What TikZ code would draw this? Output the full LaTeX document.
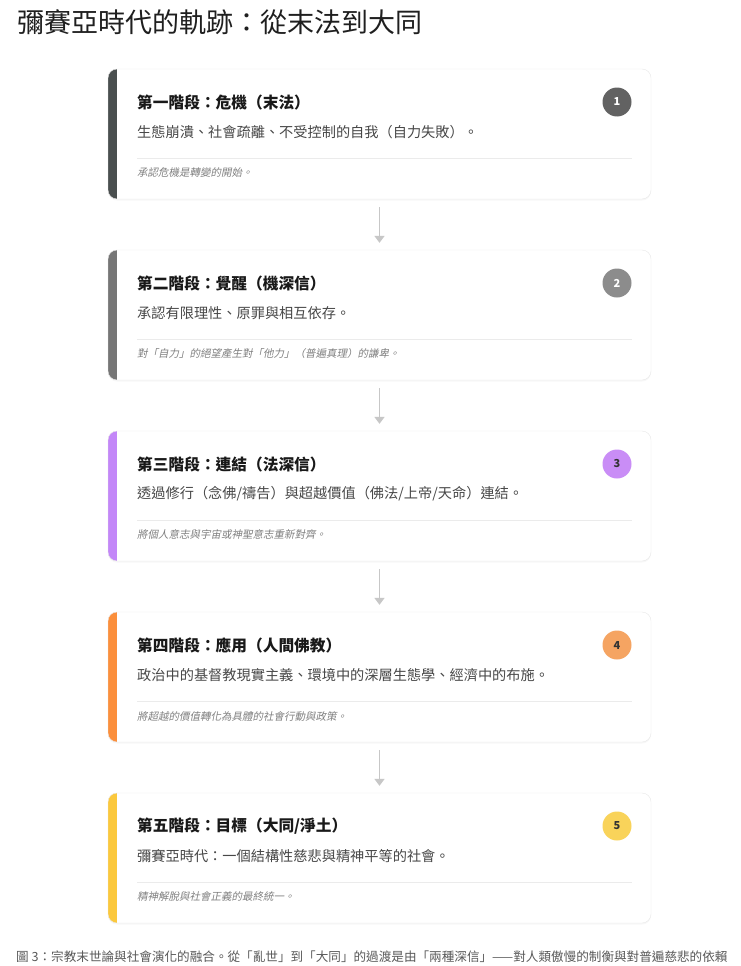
\documentclass[tikz,border=0pt]{standalone}
\usepackage{fontspec}
\setmainfont{Noto Sans CJK TC}
\newfontfamily\slantcjk[FakeSlant=0.2]{Noto Sans CJK TC}
\usetikzlibrary{arrows.meta,shadows}

\definecolor{barA}{HTML}{4A4F4F}
\definecolor{barB}{HTML}{767676}
\definecolor{barC}{HTML}{C387F8}
\definecolor{barD}{HTML}{FB8F3C}
\definecolor{barE}{HTML}{FBC83D}
\definecolor{dotA}{HTML}{626262}
\definecolor{dotB}{HTML}{8C8C8C}
\definecolor{dotC}{HTML}{C98DF6}
\definecolor{dotD}{HTML}{F5A462}
\definecolor{dotE}{HTML}{F9D35A}

\tikzset{
  card/.style={draw=black!9, fill=white, rounded corners=9pt, inner sep=0pt,
    minimum width=543pt, minimum height=130pt,
    drop shadow={opacity=0.06, shadow xshift=0pt, shadow yshift=-1.5pt},
    path picture={\fill[#1, sharp corners] (path picture bounding box.north west)
      rectangle ([xshift=9pt]path picture bounding box.south west);}},
  dot/.style={circle, fill=#1, minimum size=29pt, inner sep=0pt,
    font=\fontsize{11}{11}\selectfont\bfseries}
}
\tikzstyle{stagetitle} = [anchor=west, inner sep=0pt, text=black!90, font=\fontsize{15.7}{18}\selectfont\bfseries]
\tikzstyle{stagebody} = [anchor=west, inner sep=0pt, text=black!72, font=\fontsize{14.2}{16}\selectfont]
\tikzstyle{stagenote} = [anchor=west, inner sep=0pt, text=black!50, font=\fontsize{10.5}{12}\slantcjk]
\tikzstyle{rule} = [draw=black!8, line width=0.8pt]
\tikzstyle{flow} = [draw=black!22, line width=1.6pt, shorten <=8pt, shorten >=7pt, -{Triangle[length=7pt,width=10pt]}]

\begin{document}
\begin{tikzpicture}[x=1pt, y=-1pt]
\useasboundingbox[fill=white] (0,0) rectangle (740,966);

\node[anchor=west, inner sep=0pt, text=black!88, font=\fontsize{27}{30}\selectfont] (head) at (17,22) {彌賽亞時代的軌跡：從末法到大同};

% stage 1
\node[card=barA] (s1) at (379.5,134) {};
\node[stagetitle] (t1) at (137,102) {第一階段：危機（末法）};
\node[dot=dotA, text=white] (n1) at (617,102) {1};
\node[stagebody] (b1) at (137,132) {生態崩潰、社會疏離、不受控制的自我（自力失敗）。};
\draw[rule] (137,158) -- (632,158);
\node[stagenote] (m1) at (137,173) {承認危機是轉變的開始。};

% stage 2
\node[card=barB] (s2) at (379.5,315) {};
\node[stagetitle] (t2) at (137,283) {第二階段：覺醒（機深信）};
\node[dot=dotB, text=white] (n2) at (617,283) {2};
\node[stagebody] (b2) at (137,313) {承認有限理性、原罪與相互依存。};
\draw[rule] (137,339) -- (632,339);
\node[stagenote] (m2) at (137,354) {對「自力」的絕望產生對「他力」（普遍真理）的謙卑。};

% stage 3
\node[card=barC] (s3) at (379.5,496) {};
\node[stagetitle] (t3) at (137,464) {第三階段：連結（法深信）};
\node[dot=dotC, text=black!80] (n3) at (617,464) {3};
\node[stagebody] (b3) at (137,494) {透過修行（念佛/禱告）與超越價值（佛法/上帝/天命）連結。};
\draw[rule] (137,520) -- (632,520);
\node[stagenote] (m3) at (137,535) {將個人意志與宇宙或神聖意志重新對齊。};

% stage 4
\node[card=barD] (s4) at (379.5,677) {};
\node[stagetitle] (t4) at (137,645) {第四階段：應用（人間佛教）};
\node[dot=dotD, text=black!80] (n4) at (617,645) {4};
\node[stagebody] (b4) at (137,675) {政治中的基督教現實主義、環境中的深層生態學、經濟中的布施。};
\draw[rule] (137,701) -- (632,701);
\node[stagenote] (m4) at (137,716) {將超越的價值轉化為具體的社會行動與政策。};

% stage 5
\node[card=barE] (s5) at (379.5,858) {};
\node[stagetitle] (t5) at (137,826) {第五階段：目標（大同/淨土）};
\node[dot=dotE, text=black!80] (n5) at (617,826) {5};
\node[stagebody] (b5) at (137,856) {彌賽亞時代：一個結構性慈悲與精神平等的社會。};
\draw[rule] (137,882) -- (632,882);
\node[stagenote] (m5) at (137,897) {精神解脫與社會正義的最終統一。};

% arrows
\draw[flow] (s1) -- (s2);
\draw[flow] (s2) -- (s3);
\draw[flow] (s3) -- (s4);
\draw[flow] (s4) -- (s5);

\node[anchor=west, inner sep=0pt, text=black!65, font=\fontsize{12.6}{14}\selectfont] (cap) at (16,957) {圖 3：宗教末世論與社會演化的融合。從「亂世」到「大同」的過渡是由「兩種深信」——對人類傲慢的制衡與對普遍慈悲的依賴};
\end{tikzpicture}
\end{document}
